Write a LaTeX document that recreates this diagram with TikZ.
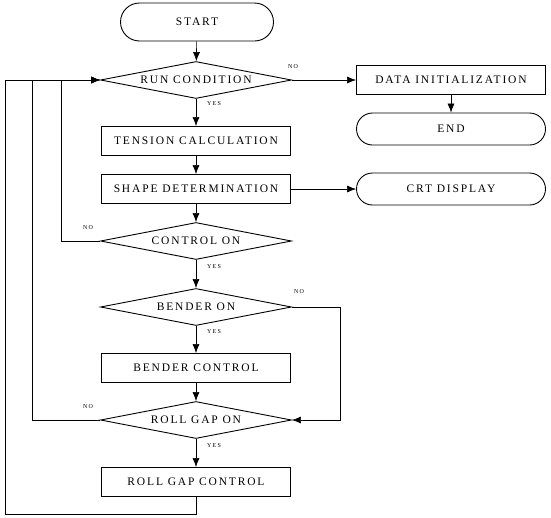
\documentclass[tikz,border=0pt]{standalone}
\usepackage{fontspec}
\setmainfont{Liberation Serif}
\usetikzlibrary{shapes.geometric,shapes.misc,arrows.meta}
\newfontfamily\flowfont[LetterSpace=16]{Liberation Serif}
\newfontfamily\tagfont[LetterSpace=20]{Liberation Serif}
\begin{document}
\begin{tikzpicture}[x=1pt,y=-1pt,
		>={Latex[length=9pt,width=7pt]},
		line width=0.6pt,
		proc/.style={draw,line width=0.9pt,minimum width=189pt,minimum height=29pt,inner sep=0pt,font=\flowfont\fontsize{11.5}{13}\selectfont},
		term/.style={draw,line width=0.9pt,rounded rectangle,minimum width=189pt,minimum height=32pt,inner sep=0pt,font=\flowfont\fontsize{11.5}{13}\selectfont},
		test/.style={draw,line width=0.9pt,diamond,aspect=5.2,minimum width=191pt,minimum height=37pt,inner sep=0pt,font=\flowfont\fontsize{11.5}{13}\selectfont},
		tag/.style={font=\tagfont\fontsize{6}{7}\selectfont,inner sep=1pt}]
	\useasboundingbox (0,0) rectangle (551,517);
	\node[term,minimum width=153pt,minimum height=38pt] (start) at (197,22) {START};
	\node[test] (run) at (196,80) {RUN CONDITION};
	\node[proc] (init) at (451,80) {DATA INITIALIZATION};
	\node[term] (end) at (451,129) {END};
	\node[proc] (tension) at (196,141) {TENSION CALCULATION};
	\node[proc] (shape) at (196,189) {SHAPE DETERMINATION};
	\node[term] (crt) at (451,189) {CRT DISPLAY};
	\node[test] (control) at (196,241) {CONTROL ON};
	\node[test] (bender) at (196,307) {BENDER ON};
	\node[proc] (bendctl) at (196,368) {BENDER CONTROL};
	\node[test] (roll) at (196,420) {ROLL GAP ON};
	\node[proc] (gapctl) at (196,482) {ROLL GAP CONTROL};
	\coordinate (loop) at (5,514);
	\draw[->] (start) -- (run);
	\draw[->] (run.east) -- (init.west);
	\draw[->] (init) -- (end);
	\draw[->] (run) -- (tension);
	\draw[->] (tension) -- (shape);
	\draw[->] (shape.east) -- (crt.west);
	\draw[->] (shape) -- (control);
	\draw[->] (control) -- (bender);
	\draw[->] (bender) -- (bendctl);
	\draw[->] (bendctl) -- (roll);
	\draw[->] (roll) -- (gapctl);
	\draw[->] (bender.east) -- ++(48,0) |- (roll.east);
	\draw[->] (control.west) -- ++(-39,0) |- (run.west);
	\draw[->] (roll.west) -- ++(-68,0) |- (run.west);
	\draw[->] (gapctl.south) |- (loop) |- (run.west);
	\node[tag] (runno) at (293,67) {NO};
	\node[tag] (runyes) at (214,104) {YES};
	\node[tag] (ctlno) at (88,228) {NO};
	\node[tag] (ctlyes) at (214,267) {YES};
	\node[tag] (bendno) at (299,292) {NO};
	\node[tag] (bendyes) at (214,332) {YES};
	\node[tag] (rollno) at (88,407) {NO};
	\node[tag] (rollyes) at (214,446) {YES};
\end{tikzpicture}
\end{document}
